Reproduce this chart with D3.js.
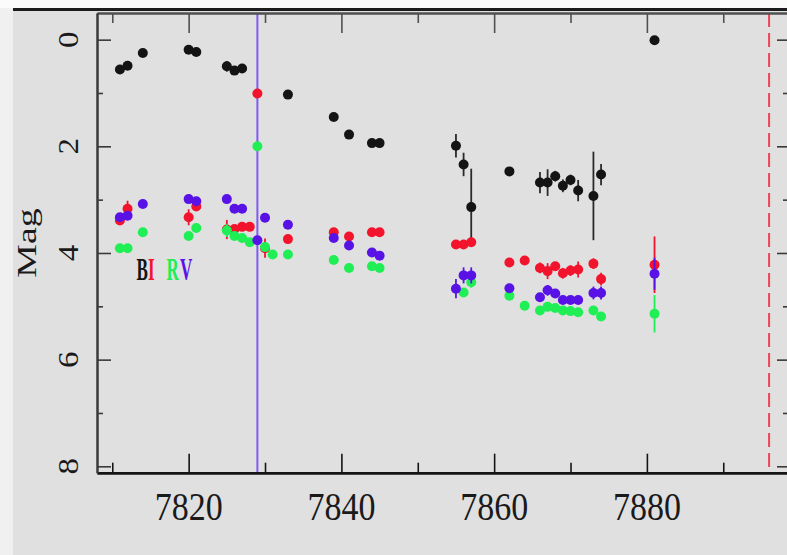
<!DOCTYPE html>
<html><head><meta charset="utf-8">
<script src="https://cdn.jsdelivr.net/npm/d3@7"></script>
<style>
html,body{margin:0;padding:0;background:#e0e0e0;overflow:hidden}
svg{display:block}
</style></head><body>
<svg id="chart" width="787" height="555"></svg>
<script>
// Light curve: magnitude per band against Julian day (JD - 2450000)
const bDays = [7811,7812,7814,7820,7821,7825,7826,7827,7833,7839,7841,7844,7845,7855,7856,7857,7862,7866,7867,7868,7869,7870,7871,7873,7874,7881];
const bMag  = [0.56,0.49,0.25,0.19,0.23,0.50,0.58,0.54,1.03,1.45,1.78,1.94,1.94,1.99,2.34,3.14,2.47,2.68,2.68,2.56,2.74,2.63,2.83,2.93,2.53,0.01];
const bErr  = [0.03,0.03,0.03,0.03,0.03,0.10,0.03,0.03,0.03,0.03,0.03,0.03,0.03,0.22,0.22,0.72,0.03,0.20,0.25,0.10,0.12,0.10,0.20,0.83,0.20,0.03];

const iDays = [7811,7812,7820,7821,7825,7826,7827,7828,7829,7830,7833,7839,7841,7844,7845,7855,7856,7857,7862,7864,7866,7867,7868,7869,7870,7871,7873,7874,7881];
const iMag  = [3.39,3.17,3.33,3.13,3.56,3.55,3.51,3.51,1.01,3.91,3.74,3.61,3.69,3.61,3.61,3.84,3.84,3.80,4.18,4.14,4.28,4.34,4.25,4.38,4.33,4.31,4.20,4.49,4.22];
const iErr  = [0.05,0.15,0.15,0.05,0.18,0.05,0.05,0.05,0.05,0.18,0.05,0.05,0.05,0.05,0.05,0.05,0.05,0.05,0.05,0.05,0.10,0.15,0.08,0.10,0.10,0.15,0.10,0.12,0.53];

const rDays = [7811,7812,7814,7820,7821,7825,7826,7827,7828,7829,7830,7831,7833,7839,7841,7844,7845,7856,7857,7862,7864,7866,7867,7868,7869,7870,7871,7873,7874,7881];
const rMag  = [3.91,3.91,3.61,3.68,3.53,3.58,3.68,3.72,3.80,2.00,3.89,4.03,4.03,4.13,4.28,4.25,4.28,4.74,4.55,4.80,4.99,5.08,5.01,5.03,5.08,5.09,5.11,5.08,5.19,5.14];
const rErr  = [0.05,0.05,0.05,0.05,0.05,0.12,0.05,0.05,0.05,0.05,0.05,0.05,0.05,0.05,0.05,0.05,0.05,0.08,0.10,0.05,0.05,0.05,0.05,0.05,0.05,0.05,0.05,0.05,0.05,0.35];

const vDays = [7811,7812,7814,7820,7821,7825,7826,7827,7829,7830,7833,7839,7841,7844,7845,7855,7856,7857,7862,7866,7867,7868,7869,7870,7871,7873,7874,7881];
const vMag  = [3.33,3.30,3.08,2.99,3.03,2.99,3.17,3.17,3.76,3.34,3.47,3.72,3.86,3.99,4.05,4.67,4.42,4.42,4.66,4.83,4.70,4.76,4.88,4.88,4.88,4.75,4.75,4.39];
const vErr  = [0.05,0.05,0.05,0.05,0.05,0.05,0.05,0.05,0.05,0.05,0.05,0.05,0.05,0.05,0.05,0.18,0.15,0.15,0.05,0.05,0.10,0.05,0.05,0.05,0.05,0.12,0.12,0.30];

const bandNames = ["B","I","R","V"];
const xMajor = [7820,7840,7860,7880];
const xMinor = [7810,7830,7850,7870,7890];
const xLabels = ["7820","7840","7860","7880"];
const yMajor = [0,2,4,6,8];
const yMinor = [1,3,5,7];
const yLabels = ["0","2","4","6","8"];
const eventDay = 7829;
const futureDay = 7896;

const colors = {B:"#141414", I:"#f2142c", R:"#20ee55", V:"#5812e6"};
const barColors = {B:"#2a2a2a", I:"#f2142c", R:"#20ee55", V:"#5812e6"};

const svg = d3.select("#chart");
const W = 787, H = 555;

// page background pieces
svg.append("rect").attr("x",0).attr("y",0).attr("width",W).attr("height",H).attr("fill","#e0e0e0");
svg.append("rect").attr("x",0).attr("y",0).attr("width",13).attr("height",H).attr("fill","#f0f0f0");
svg.append("rect").attr("x",0).attr("y",0).attr("width",W).attr("height",8).attr("fill","#fbfbfb");
svg.append("rect").attr("x",13).attr("y",8).attr("width",W-13).attr("height",3).attr("fill","#1c1c1c");

const x = d3.scaleLinear().domain([7808, 7899]).range([97, 792]);
const y = d3.scaleLinear().domain([-0.5, 8.12]).range([13, 472.7]);

// reference lines
svg.append("line")
  .attr("x1", x(eventDay)).attr("x2", x(eventDay))
  .attr("y1", y.range()[0]).attr("y2", y.range()[1])
  .attr("stroke", "#7d5cf2").attr("stroke-width", 2);
svg.append("line")
  .attr("x1", x(futureDay)).attr("x2", x(futureDay))
  .attr("y1", y.range()[0]).attr("y2", y.range()[1])
  .attr("stroke", "#ee4456").attr("stroke-width", 2)
  .attr("stroke-dasharray", "14,6");

// axes: ticks point inward on all four sides
function styleAxis(g, color, width) {
  g.selectAll("path.domain").attr("stroke", color).attr("stroke-width", width);
  g.selectAll(".tick line").attr("stroke", color).attr("stroke-width", 1.6);
}
const [x0, x1] = x.range();
const [y0, y1] = y.range();

svg.append("g").attr("transform", `translate(0,${y1})`)
  .call(d3.axisBottom(x).tickValues(xMajor).tickSize(-19).tickSizeOuter(0).tickFormat(""))
  .call(g => styleAxis(g, "#151515", 2.4));
svg.append("g").attr("transform", `translate(0,${y1})`)
  .call(d3.axisBottom(x).tickValues(xMinor).tickSize(-10).tickSizeOuter(0).tickFormat(""))
  .call(g => styleAxis(g, "#151515", 2.4));

svg.append("g").attr("transform", `translate(0,${y0})`)
  .call(d3.axisTop(x).tickValues(xMajor).tickSize(-20).tickSizeOuter(0).tickFormat(""))
  .call(g => styleAxis(g, "#505050", 2));
svg.append("g").attr("transform", `translate(0,${y0})`)
  .call(d3.axisTop(x).tickValues(xMinor).tickSize(-10).tickSizeOuter(0).tickFormat(""))
  .call(g => styleAxis(g, "#505050", 2));

svg.append("g").attr("transform", `translate(${x0},0)`)
  .call(d3.axisLeft(y).tickValues(yMajor).tickSize(-14).tickSizeOuter(0).tickFormat(""))
  .call(g => styleAxis(g, "#3a3a3a", 2));
svg.append("g").attr("transform", `translate(${x0},0)`)
  .call(d3.axisLeft(y).tickValues(yMinor).tickSize(-6).tickSizeOuter(0).tickFormat(""))
  .call(g => styleAxis(g, "#3a3a3a", 2));

svg.append("g").attr("transform", `translate(${x1},0)`)
  .call(d3.axisRight(y).tickValues(yMajor).tickSize(-15).tickSizeOuter(0).tickFormat(""))
  .call(g => styleAxis(g, "#3a3a3a", 2));
svg.append("g").attr("transform", `translate(${x1},0)`)
  .call(d3.axisRight(y).tickValues(yMinor).tickSize(-9).tickSizeOuter(0).tickFormat(""))
  .call(g => styleAxis(g, "#3a3a3a", 2));

// tick labels
const serif = "'Liberation Serif','DejaVu Serif',serif";
svg.append("g").selectAll("text").data(xMajor).join("text")
  .attr("transform", d => `translate(${x(d)},519.5) scale(0.85,1)`)
  .attr("text-anchor", "middle")
  .attr("font-family", serif).attr("font-size", 40).attr("fill", "#1a1a1a")
  .text((d, i) => xLabels[i]);

svg.append("g").selectAll("text").data(yMajor).join("text")
  .attr("transform", d => `translate(77.5,${y(d)}) rotate(-90) scale(1.1,1)`)
  .attr("text-anchor", "middle")
  .attr("font-family", serif).attr("font-size", 30).attr("fill", "#1a1a1a")
  .text((d, i) => yLabels[i]);

svg.append("text")
  .attr("transform", "translate(35.5,243) rotate(-90) scale(1.4,1)")
  .attr("text-anchor", "middle")
  .attr("font-family", serif).attr("font-size", 27).attr("fill", "#1a1a1a")
  .text("Mag");

// data marks, drawn B, I, R, V so later bands sit on top
const bands = [
  {name:"B", days:bDays, mag:bMag, err:bErr},
  {name:"I", days:iDays, mag:iMag, err:iErr},
  {name:"R", days:rDays, mag:rMag, err:rErr},
  {name:"V", days:vDays, mag:vMag, err:vErr}
];
bands.forEach(b => {
  const pts = b.days.map((d, i) => ({d, m:b.mag[i], e:b.err[i]}));
  const g = svg.append("g");
  g.selectAll("line").data(pts.filter(p => p.e > 0.06)).join("line")
    .attr("x1", p => x(p.d)).attr("x2", p => x(p.d))
    .attr("y1", p => y(p.m - p.e)).attr("y2", p => y(p.m + p.e))
    .attr("stroke", barColors[b.name]).attr("stroke-width", 1.8);
  g.selectAll("circle").data(pts).join("circle")
    .attr("cx", p => x(p.d)).attr("cy", p => y(p.m)).attr("r", 5)
    .attr("fill", colors[b.name]);
});

// band legend
const legendX = [136.5, 148, 166.5, 180];
svg.append("g").selectAll("text").data(bandNames).join("text")
  .attr("transform", (d, i) => `translate(${legendX[i]},279.5) scale(0.55,1)`)
  .attr("font-family", serif).attr("font-size", 31).attr("font-weight", "bold")
  .attr("fill", d => colors[d])
  .text(d => d);
</script>
</body></html>
